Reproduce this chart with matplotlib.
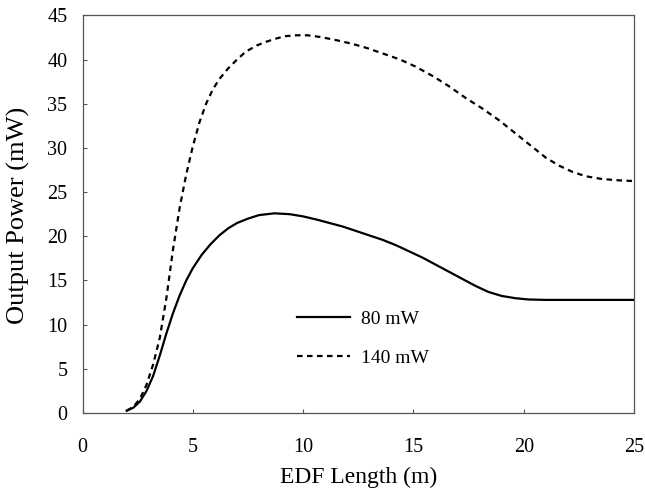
import matplotlib
matplotlib.use("Agg")
import matplotlib.pyplot as plt

# EDF output power vs. fibre length
length_80 = [2.0, 2.3, 2.6, 2.9, 3.2, 3.5, 3.8, 4.1, 4.4, 4.7, 5.0, 5.4, 5.8,
             6.2, 6.6, 7.0, 7.5, 8.0, 8.7, 9.4, 10.0, 10.6, 11.2, 11.8, 12.4,
             13.0, 13.6, 14.2, 14.8, 15.4, 16.0, 16.6, 17.2, 17.8, 18.4, 19.0,
             19.6, 20.2, 21.0, 22.0, 23.0, 24.0, 25.0]
power_80 = [0.26, 0.6, 1.3, 2.5, 4.2, 6.5, 9.0, 11.3, 13.3, 15.0, 16.4, 17.9,
            19.1, 20.1, 20.9, 21.5, 22.0, 22.4, 22.6, 22.5, 22.25, 21.9, 21.5,
            21.1, 20.6, 20.1, 19.6, 19.0, 18.3, 17.6, 16.8, 16.0, 15.2, 14.4,
            13.7, 13.25, 13.0, 12.85, 12.8, 12.8, 12.8, 12.8, 12.8]

length_140 = [2.0, 2.3, 2.6, 2.9, 3.2, 3.5, 3.8, 4.1, 4.4, 4.7, 5.0, 5.3, 5.6,
              5.9, 6.2, 6.6, 7.0, 7.4, 7.9, 8.3, 8.8, 9.2, 9.7, 10.2, 10.8,
              11.5, 12.2, 12.9, 13.6, 14.4, 15.1, 15.9, 16.6, 17.4, 18.1, 18.9,
              19.6, 20.4, 21.0, 21.6, 22.2, 22.8, 23.5, 24.2, 25.0]
power_140 = [0.26, 0.7, 1.6, 3.2, 5.5, 8.5, 13.0, 18.5, 23.2, 27.0, 30.2, 32.9,
             35.0, 36.6, 37.8, 39.0, 40.0, 40.9, 41.6, 42.0, 42.4, 42.65, 42.75,
             42.75, 42.55, 42.2, 41.8, 41.3, 40.7, 40.0, 39.2, 38.1, 37.0, 35.6,
             34.5, 33.1, 31.7, 30.1, 28.9, 28.0, 27.3, 26.8, 26.5, 26.35, 26.25]

labels = ["80 mW", "140 mW"]
x_ticks = [0, 5, 10, 15, 20, 25]
y_ticks = [0, 5, 10, 15, 20, 25, 30, 35, 40, 45]

plt.rcParams["font.family"] = ["Liberation Serif", "DejaVu Serif"]
plt.rcParams["font.size"] = 14.5

fig = plt.figure(figsize=(6.45, 4.97), dpi=100)
ax = fig.add_axes([0.128, 0.169, 0.855, 0.8])

ax.plot(length_80, power_80, color="black", lw=1.6, label=labels[0])
ax.plot(length_140, power_140, color="black", lw=1.6,
        linestyle=(0, (2.5, 2.0)), label=labels[1])

ax.set_xlim(0, 25)
ax.set_ylim(0, 45)
ax.set_xticks(x_ticks)
ax.set_yticks(y_ticks)
ax.tick_params(axis="x", direction="in", length=3, width=0.8, pad=18,
               colors="#555555", labelcolor="black")
ax.tick_params(axis="y", direction="in", length=3, width=0.8, pad=11,
               colors="#555555", labelcolor="black")
for sp in ax.spines.values():
    sp.set_color("#555555")
    sp.set_linewidth(0.9)

ax.set_xlabel("EDF Length (m)", fontsize=17)
ax.set_ylabel("Output Power (mW)", fontsize=19)
ax.xaxis.set_label_coords(0.5, -0.136)
ax.yaxis.set_label_coords(-0.095, 0.498)

# legend sits inside the plot, no frame
ax.legend(loc="upper left", bbox_to_anchor=(0.389, 0.259), frameon=False,
          borderpad=0, borderaxespad=0, handlelength=2.7, handletextpad=0.57,
          labelspacing=1.13, fontsize=14)

fig.savefig("out.png", dpi=100)
